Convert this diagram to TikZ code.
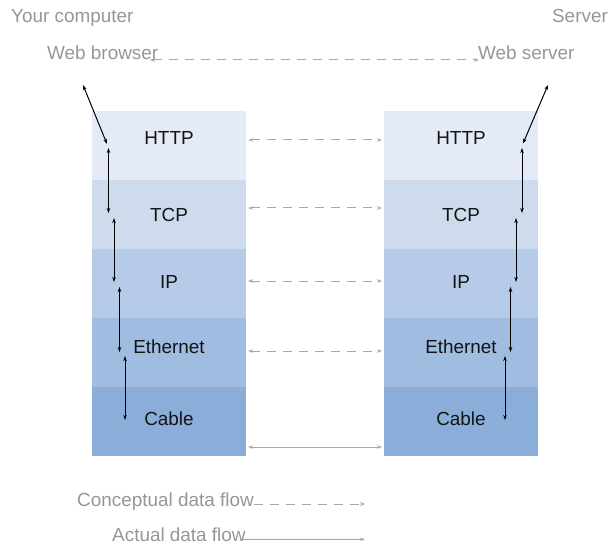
\documentclass[tikz,border=0pt]{standalone}
\usepackage{fontspec}
\setmainfont{Liberation Sans}
\usetikzlibrary{arrows.meta,calc}
\definecolor{cHTTP}{RGB}{228,235,247}
\definecolor{cTCP}{RGB}{205,219,237}
\definecolor{cIP}{RGB}{182,203,232}
\definecolor{cEth}{RGB}{160,188,224}
\definecolor{cCable}{RGB}{138,173,217}
\definecolor{graytext}{RGB}{150,150,150}
\definecolor{grayline}{RGB}{168,168,168}
\definecolor{labeltext}{RGB}{20,20,20}
\begin{document}
\begin{tikzpicture}[x=1bp,y=-1bp,
  every node/.style={font=\fontsize{18.9bp}{22bp}\selectfont},
  layerbox/.style={rectangle, draw=none, inner sep=0pt, outer sep=0pt,
    minimum width=154bp, minimum height=69bp},
  layertext/.style={anchor=base, text=labeltext, inner sep=0pt},
  graylabel/.style={text=graytext, inner sep=0pt},
  stackarrow/.style={draw=black, line width=1bp, {Stealth[length=5bp,width=3.5bp]}-{Stealth[length=5bp,width=3.5bp]}},
  concept/.style={draw=grayline, line width=1bp, dash pattern=on 9bp off 7bp, {Stealth[length=5bp,width=3.5bp]}-{Stealth[length=5bp,width=3.5bp]}},
  actual/.style={draw=grayline, line width=1bp, {Stealth[length=5bp,width=3.5bp]}-{Stealth[length=5bp,width=3.5bp]}},
  legendconcept/.style={draw=grayline, line width=1bp, dash pattern=on 9bp off 7bp, -{Stealth[length=5bp,width=3.5bp]}},
  legendactual/.style={draw=grayline, line width=1bp, -{Stealth[length=5bp,width=3.5bp]}}
]
\useasboundingbox (0,0) rectangle (610,547);

% layer boxes
\node[layerbox, fill=cHTTP]  (lHTTP)  at (169,145.5) {};
\node[layerbox, fill=cTCP]   (lTCP)   at (169,214.5) {};
\node[layerbox, fill=cIP]    (lIP)    at (169,283.5) {};
\node[layerbox, fill=cEth]   (lEth)   at (169,352.5) {};
\node[layerbox, fill=cCable] (lCable) at (169,421.5) {};
\node[layerbox, fill=cHTTP]  (rHTTP)  at (461,145.5) {};
\node[layerbox, fill=cTCP]   (rTCP)   at (461,214.5) {};
\node[layerbox, fill=cIP]    (rIP)    at (461,283.5) {};
\node[layerbox, fill=cEth]   (rEth)   at (461,352.5) {};
\node[layerbox, fill=cCable] (rCable) at (461,421.5) {};

% layer labels
\node[layertext] (tlHTTP)  at (169,145) {HTTP};
\node[layertext] (tlTCP)   at (169,221.7) {TCP};
\node[layertext] (tlIP)    at (169,288.3) {IP};
\node[layertext] (tlEth)   at (169,353.3) {Ethernet};
\node[layertext] (tlCable) at (169,425.3) {Cable};
\node[layertext] (trHTTP)  at (461,145) {HTTP};
\node[layertext] (trTCP)   at (461,221.7) {TCP};
\node[layertext] (trIP)    at (461,288.3) {IP};
\node[layertext] (trEth)   at (461,353.3) {Ethernet};
\node[layertext] (trCable) at (461,425.3) {Cable};

% top labels
\node[graylabel, anchor=base west] (yc) at (11,22.7) {Your computer};
\node[graylabel, anchor=base east] (sv) at (608,22.7) {Server};
\node[graylabel, anchor=base west] (wb) at (47,60) {Web browser};
\node[graylabel, anchor=base west] (ws) at (478,60) {Web server};

% legend labels
\node[graylabel, anchor=base west] (lc) at (77,506.7) {Conceptual data flow};
\node[graylabel, anchor=base west] (la) at (112,541.7) {Actual data flow};

% coordinates
\coordinate (wbA) at (150,60);
\coordinate (wsA) at (479,60);
\coordinate (bTop) at (83,85);
\coordinate (bBot) at (107,144);
\coordinate (sTop) at (548,85);
\coordinate (sBot) at (523,143.5);

\coordinate (l1a) at (108.5,148); \coordinate (l1b) at (108.5,213);
\coordinate (l2a) at (114,218);   \coordinate (l2b) at (114,282);
\coordinate (l3a) at (119.5,287); \coordinate (l3b) at (119.5,352);
\coordinate (l4a) at (125,356);   \coordinate (l4b) at (125,420);
\coordinate (r1a) at (522,148);   \coordinate (r1b) at (522,213);
\coordinate (r2a) at (516,218);   \coordinate (r2b) at (516,282);
\coordinate (r3a) at (510.5,287); \coordinate (r3b) at (510.5,352);
\coordinate (r4a) at (505,356);   \coordinate (r4b) at (505,420);

% conceptual top line
\draw[concept] (wbA) -- (wsA);

% stack arrows
\draw[stackarrow] (bTop) -- (bBot);
\draw[stackarrow] (l1a) -- (l1b);
\draw[stackarrow] (l2a) -- (l2b);
\draw[stackarrow] (l3a) -- (l3b);
\draw[stackarrow] (l4a) -- (l4b);
\draw[stackarrow] (sTop) -- (sBot);
\draw[stackarrow] (r1a) -- (r1b);
\draw[stackarrow] (r2a) -- (r2b);
\draw[stackarrow] (r3a) -- (r3b);
\draw[stackarrow] (r4a) -- (r4b);

% between stacks
\draw[concept] ($(lHTTP.east)+(2,-5.5)$) -- ($(rHTTP.west)+(-2,-5.5)$);
\draw[concept] ($(lTCP.east)+(2,-6.5)$) -- ($(rTCP.west)+(-2,-6.5)$);
\draw[concept] ($(lIP.east)+(2,-2.5)$) -- ($(rIP.west)+(-2,-2.5)$);
\draw[concept] ($(lEth.east)+(2,-1.5)$) -- ($(rEth.west)+(-2,-1.5)$);
\draw[actual] ($(lCable.east)+(2,25.5)$) -- ($(rCable.west)+(-2,25.5)$);

% legend lines
\coordinate (lcEnd) at (365,504);
\coordinate (laEnd) at (365,539.3);
\draw[legendconcept] ($(lc.base east)+(0,-2.7)$) -- (lcEnd);
\draw[legendactual] ($(la.base east)+(-6,-2.4)$) -- (laEnd);
\end{tikzpicture}
\end{document}
